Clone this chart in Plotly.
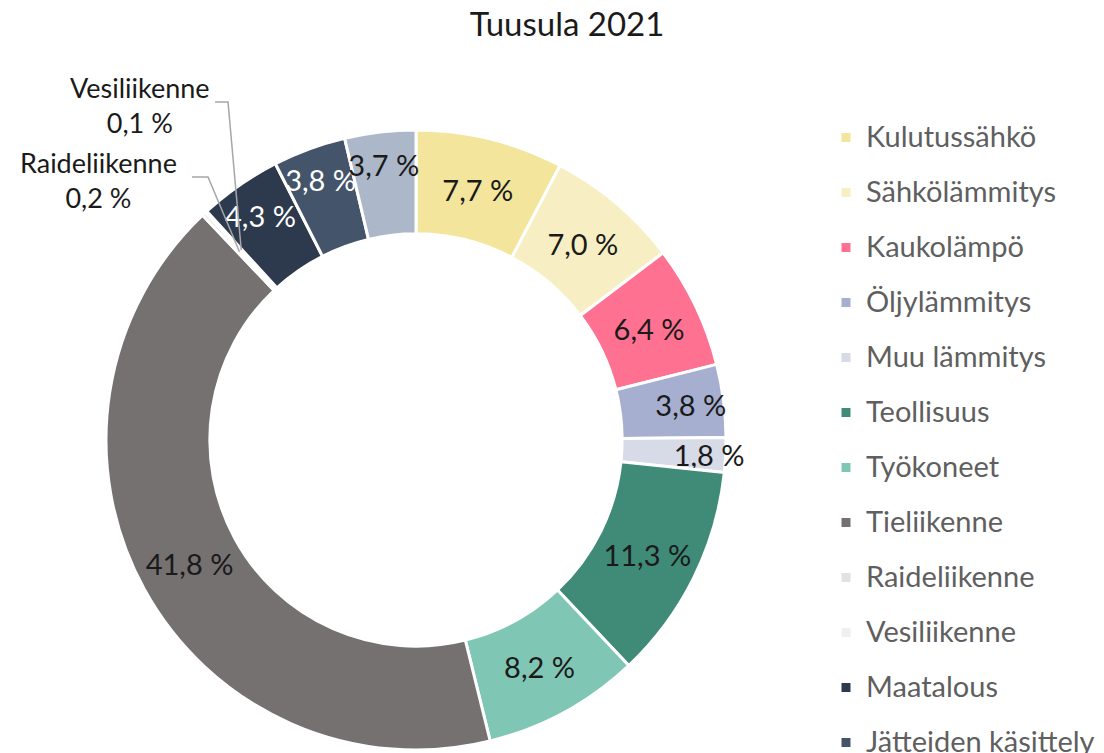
import math
import plotly.graph_objects as go

# ---- data ----
chart_title = "Tuusula 2021"
categories = ["Kulutussähkö", "Sähkölämmitys", "Kaukolämpö", "Öljylämmitys",
              "Muu lämmitys", "Teollisuus", "Työkoneet", "Tieliikenne",
              "Raideliikenne", "Vesiliikenne", "Maatalous", "Jätteiden käsittely",
              "F-kaasut"]
shares = [7.7, 7.0, 6.4, 3.8, 1.8, 11.3, 8.2, 41.8, 0.2, 0.1, 4.3, 3.8, 3.7]
outside_categories = ["Raideliikenne", "Vesiliikenne"]

# ---- style ----
slice_colors = ["#f3e59c", "#f7efc3", "#fe7190", "#a6afcf", "#d7dae7", "#3f8b78",
                "#80c6b4", "#767171", "#e2e2e2", "#efefef", "#2d394c", "#44546a",
                "#acb8c9"]
text_colors = ["#1a1a1a"] * 10 + ["#ffffff", "#ffffff", "#1a1a1a"]
FONT = "Lato"
W, H = 1104, 753
cx, cy, R = 416, 440, 310
HOLE = 0.665


def fmt(v):
    return f"{v:.1f} %".replace(".", ",")


slice_text = ["" if c in outside_categories else fmt(v) for c, v in zip(categories, shares)]
legend_names = [f'<span style="font-size:29px;baseline-shift:6px">{c}</span>' for c in categories]

fig = go.Figure(go.Pie(
    labels=legend_names,
    values=shares,
    sort=False,
    direction="clockwise",
    rotation=0,
    hole=HOLE,
    text=slice_text,
    textinfo="text",
    textposition="inside",
    insidetextorientation="horizontal",
    textfont=dict(family=FONT, size=29, color=text_colors),
    marker=dict(colors=slice_colors, line=dict(color="#ffffff", width=3)),
    domain=dict(x=[(cx - R) / W, (cx + R) / W], y=[(H - cy - R) / H, (H - cy + R) / H]),
    hoverinfo="label+value",
))

# leader lines + outside labels for tiny slices
total = sum(shares)
r_mid = R * (1 + HOLE) / 2
label_pos = {"Raideliikenne": ((98, 180), (192, 177), (208, 177)),
             "Vesiliikenne": ((140, 105), (215, 102), (228, 102))}
shapes = []
annotations = []
for name in outside_categories:
    i = categories.index(name)
    frac = (sum(shares[:i]) + shares[i] / 2) / total
    ang = frac * 2 * math.pi
    tx = cx + r_mid * math.sin(ang)
    ty = cy - r_mid * math.cos(ang)
    (lx, ly), (sx, sy), (ex, ey) = label_pos[name]
    path = (f"M {sx / W},{1 - sy / H} L {ex / W},{1 - ey / H} "
            f"L {tx / W},{1 - ty / H}")
    shapes.append(dict(type="path", xref="paper", yref="paper", path=path,
                       line=dict(color="#a6a6a6", width=1.5)))
    annotations.append(dict(text=f"{name}<br>{fmt(shares[i])}", x=lx / W, y=1 - ly / H,
                            xref="paper", yref="paper", xanchor="center", yanchor="middle",
                            showarrow=False, align="center",
                            font=dict(family=FONT, size=27, color="#1a1a1a")))

fig.update_layout(
    width=W, height=H,
    margin=dict(l=0, r=0, t=0, b=0, autoexpand=False),
    paper_bgcolor="#ffffff",
    title=dict(text=chart_title, x=567 / W, xanchor="center", y=1 - 24 / H, yanchor="middle",
               font=dict(family=FONT, size=33, color="#1a1a1a")),
    uniformtext=dict(minsize=29, mode="show"),
    showlegend=True,
    legend=dict(x=826 / W, xanchor="left", y=1 - 105 / H, yanchor="top",
                font=dict(family=FONT, size=40, color="#5f5f5f"),
                bgcolor="rgba(0,0,0,0)", traceorder="normal"),
    shapes=shapes,
    annotations=annotations,
)
try:
    fig.update_layout(legend_maxheight=3000)
except Exception:
    pass

fig.write_html("out.html", config={"displayModeBar": False},
               post_script="document.body.style.margin='0';")
